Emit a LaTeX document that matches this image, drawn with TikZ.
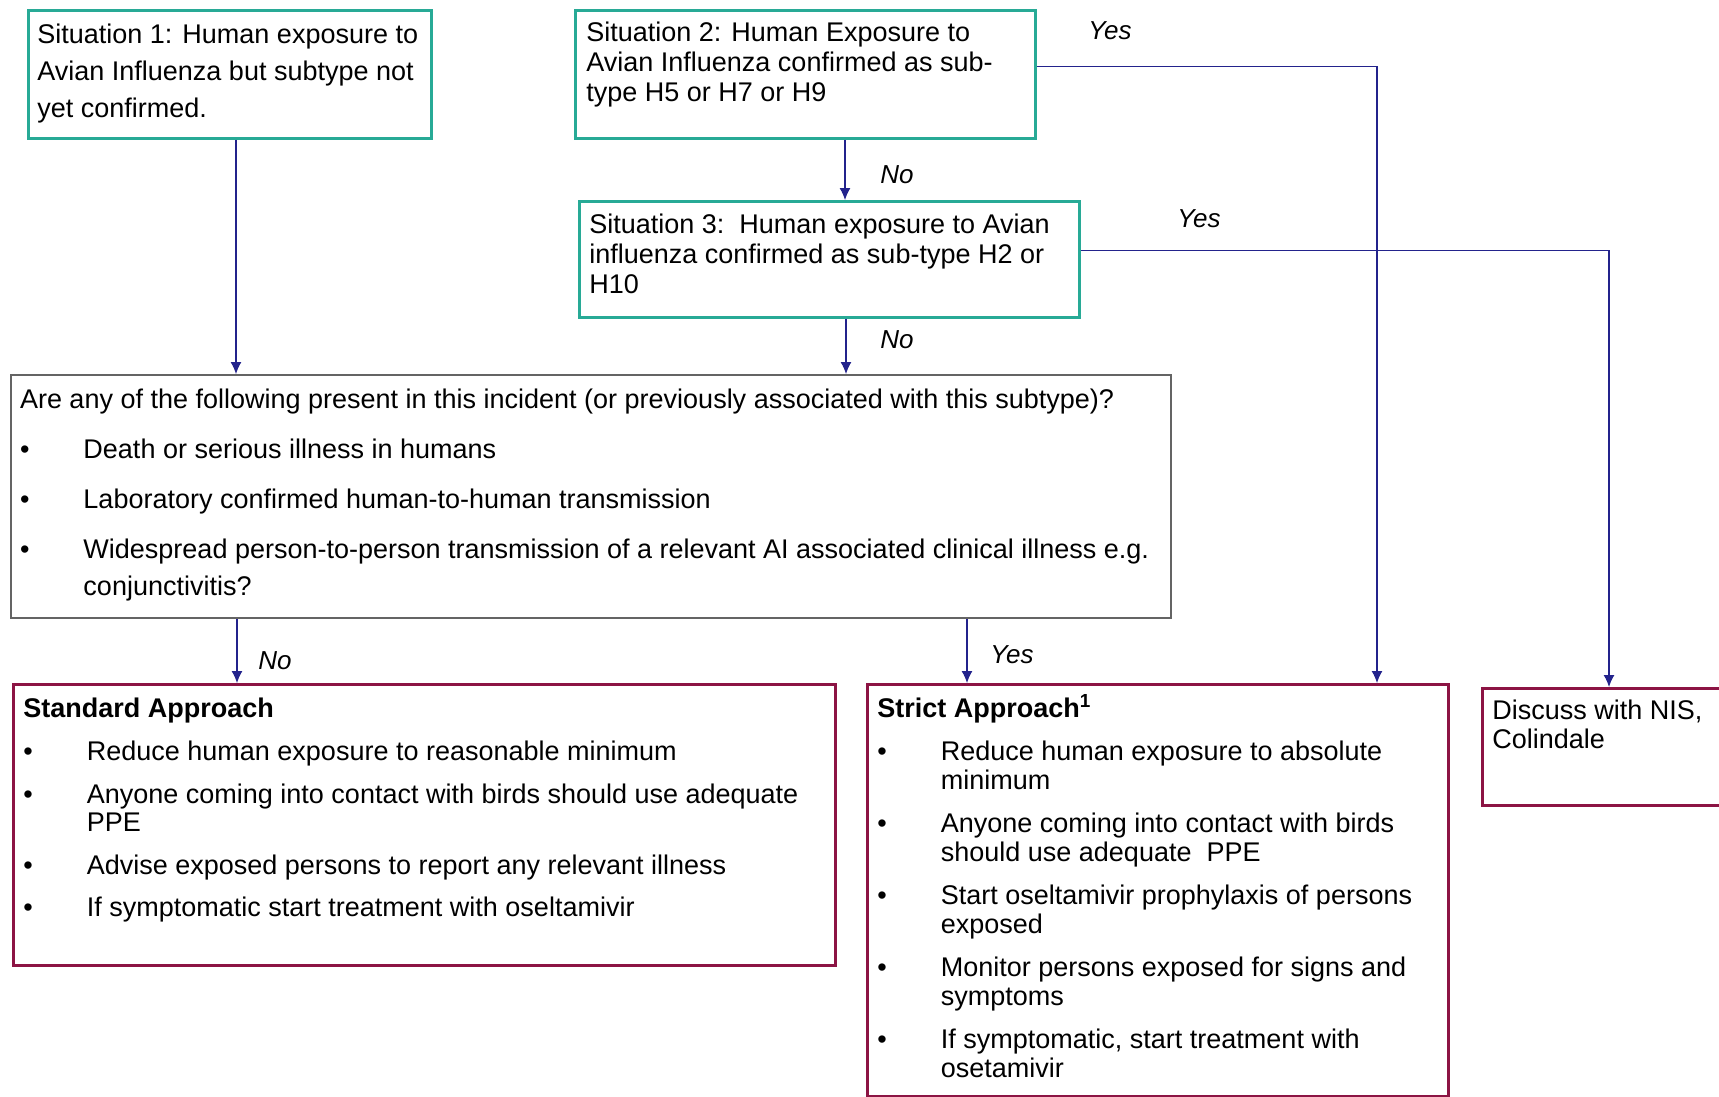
\documentclass[tikz,border=0pt]{standalone}
\usepackage{fontspec}
\setmainfont{Liberation Sans}
\usetikzlibrary{arrows.meta, positioning}
\definecolor{sitTeal}{RGB}{40,170,150}
\definecolor{actMaroon}{RGB}{140,20,68}
\definecolor{flowNavy}{RGB}{35,35,140}
\definecolor{askGray}{RGB}{100,100,100}
\tikzset{
    sitBox/.style={draw=sitTeal, line width=1.4pt, anchor=north west},
    askBox/.style={draw=askGray, line width=1pt, anchor=north west},
    actBox/.style={draw=actMaroon, line width=1.4pt, anchor=north west},
    flowArrow/.style={->, >={Latex[length=6pt, width=5.5pt]}, draw=flowNavy, line width=0.6pt},
    ansLabel/.style={font=\fontsize{13pt}{14pt}\selectfont\itshape, inner sep=0pt},
}
% width, height, line skip, text
\newcommand{\boxText}[4]{%
    \parbox[t][#2][t]{#1}{\fontsize{13.5pt}{#3}\selectfont #4}}
% bullet line with hanging indent
\newcommand{\bulItem}[2][6.5pt]{%
    \par\vspace{#1}\hangindent=31.75pt\hangafter=1\noindent\makebox[31.75pt][l]{\textbullet}#2}

\begin{document}
\begin{tikzpicture}[x=0.5pt, y=-0.5pt]
    \useasboundingbox (0,0) rectangle (1719,1097);

    % situations
    \node[sitBox, inner xsep=4.5pt, inner ysep=7pt] (s1) at (27,9)
        {\boxText{192.5pt}{50pt}{18.35pt}{Situation 1: Human exposure to\\Avian Influenza but subtype not\\yet confirmed.}};
    \node[sitBox, inner xsep=5.5pt, inner ysep=6pt] (s2) at (574,9)
        {\boxText{219pt}{52pt}{14.8pt}{Situation 2: Human Exposure to\\Avian Influenza confirmed as sub-\\type H5 or H7 or H9}};
    \node[sitBox, inner xsep=5pt, inner ysep=6.5pt] (s3) at (578,200)
        {\boxText{240pt}{45pt}{14.8pt}{Situation 3:\ \ Human exposure to Avian\\influenza confirmed as sub-type H2 or\\H10}};

    % question
    \node[askBox, inner xsep=4.5pt, inner ysep=7pt] (ask) at (10,374)
        {\boxText{571pt}{107.5pt}{18.5pt}{Are any of the following present in this incident (or previously associated with this subtype)?
        \bulItem{Death or serious illness in humans}
        \bulItem{Laboratory confirmed human-to-human transmission}
        \bulItem{Widespread person-to-person transmission of a relevant AI associated clinical illness e.g.\\conjunctivitis?}}};

    % outcomes
    \node[actBox, inner xsep=5pt, inner ysep=7pt] (std) at (12,683)
        {\boxText{401pt}{126.5pt}{14.3pt}{\textbf{Standard Approach}
        \bulItem[7pt]{Reduce human exposure to reasonable minimum}
        \bulItem[7pt]{Anyone coming into contact with birds should use adequate\\PPE}
        \bulItem[7pt]{Advise exposed persons to report any relevant illness}
        \bulItem[7pt]{If symptomatic start treatment with oseltamivir}}};
    \node[actBox, inner xsep=5pt, inner ysep=7pt] (strict) at (866,683)
        {\boxText{280.5pt}{192pt}{14.6pt}{\textbf{Strict Approach\smash{\textsuperscript{1}}}
        \bulItem[6.75pt]{Reduce human exposure to absolute\\minimum}
        \bulItem[6.75pt]{Anyone coming into contact with birds\\should use adequate\ \ PPE}
        \bulItem[6.75pt]{Start oseltamivir prophylaxis of persons\\exposed}
        \bulItem[6.75pt]{Monitor persons exposed for signs and\\symptoms}
        \bulItem[6.75pt]{If symptomatic, start treatment with\\osetamivir}}};
    \node[actBox, inner xsep=5pt, inner ysep=6pt] (disc) at (1481,687)
        {\boxText{114.5pt}{46.5pt}{14.5pt}{Discuss with NIS,\\Colindale}};

    % answers
    \node[ansLabel] (yesS2) at (1110,31) {Yes};
    \node[ansLabel] (noS2) at (897,175) {No};
    \node[ansLabel] (yesS3) at (1199,219) {Yes};
    \node[ansLabel] (noS3) at (897,340) {No};
    \node[ansLabel] (noAsk) at (275,661) {No};
    \node[ansLabel] (yesAsk) at (1012,655) {Yes};

    \draw[flowArrow] (s1.south -| 236,0) -- (ask.north -| 236,0);
    \draw[flowArrow] (s2.south -| 845,0) -- (s3.north -| 845,0);
    \draw[flowArrow] (s3.south -| 846,0) -- (ask.north -| 846,0);
    \draw[flowArrow] (ask.south -| 237,0) -- (std.north -| 237,0);
    \draw[flowArrow] (ask.south -| 967,0) -- (strict.north -| 967,0);
    \draw[flowArrow] ([yshift=4pt]s2.east) -| (strict.north -| 1377,0);
    \draw[flowArrow] ([yshift=4.5pt]s3.east) -| (disc.north -| 1609,0);

\end{tikzpicture}
\end{document}
